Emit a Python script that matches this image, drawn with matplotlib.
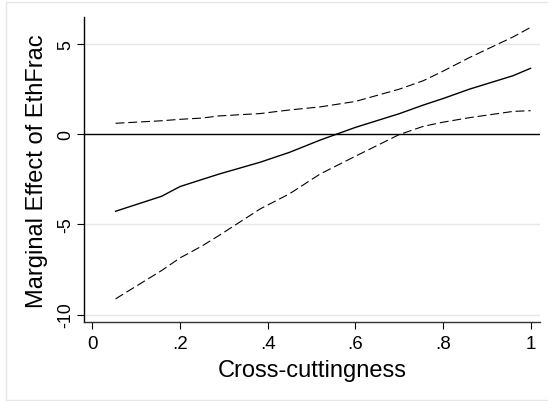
import numpy as np
import matplotlib
matplotlib.use("Agg")
import matplotlib.pyplot as plt
from matplotlib.patches import Rectangle

plt.rcParams['font.family'] = ['Liberation Sans', 'DejaVu Sans']

# cross-cuttingness values where the marginal effect is evaluated
cross = [0.053, 0.158, 0.20, 0.25, 0.29, 0.383, 0.45, 0.52, 0.60, 0.70,
         0.755, 0.80, 0.86, 0.96, 1.0]
# marginal effect of EthFrac and its 95% bounds
effect = [-4.27, -3.44, -2.90, -2.51, -2.20, -1.55, -1.00, -0.32, 0.38, 1.14,
          1.62, 1.98, 2.50, 3.25, 3.66]
upper = [0.61, 0.75, 0.83, 0.90, 1.02, 1.15, 1.35, 1.52, 1.82, 2.50,
         2.97, 3.50, 4.25, 5.40, 5.93]
lower = [-9.13, -7.56, -6.86, -6.20, -5.60, -4.14, -3.30, -2.20, -1.22, -0.02,
         0.44, 0.67, 0.92, 1.27, 1.31]

xticks = [0, 0.2, 0.4, 0.6, 0.8, 1.0]
xtick_labels = ['0', '.2', '.4', '.6', '.8', '1']
yticks = [-10, -5, 0, 5]
ytick_labels = ['-10', '-5', '0', '5']

fig = plt.figure(figsize=(5.48, 4.02), dpi=100)
ax = fig.add_axes([84/548, 1 - 323.3/402, 456/548, 305/402])

# light frame around the whole graph
fig.patches.append(Rectangle((6/548, 1/402), 1.2, 398/402, transform=fig.transFigure,
                             fill=False, edgecolor='#e6e6e6', linewidth=1.0))

for yv in [-10, -5, 5]:
    ax.axhline(yv, color='#e8e8e8', linewidth=1.0, zorder=0)
ax.axhline(0, color='black', linewidth=1.0, zorder=1)

ax.plot(cross, effect, color='black', linewidth=1.0)
ax.plot(cross, upper, color='black', linewidth=0.8, dashes=(8, 3.5))
ax.plot(cross, lower, color='black', linewidth=0.8, dashes=(8, 3.5))

ax.set_xlim(-0.019, 1.0215)
ax.set_ylim(-10.43, 6.49)
ax.set_xticks(xticks)
ax.set_xticklabels(xtick_labels)
ax.set_yticks(yticks)
ax.set_yticklabels(ytick_labels, rotation=90, va='center')

ax.spines['top'].set_visible(False)
ax.spines['right'].set_visible(False)
ax.spines['left'].set_linewidth(1.0)
ax.spines['bottom'].set_linewidth(1.0)
ax.spines['bottom'].set_color('#333333')
ax.tick_params(axis='x', length=5, width=0.8, labelsize=13.5, pad=4)
ax.tick_params(axis='y', length=5, width=0.8, labelsize=12.8, pad=2)

ax.set_xlabel('Cross-cuttingness', fontsize=17, labelpad=5)
ax.set_ylabel('Marginal Effect of EthFrac', fontsize=17, labelpad=7)

fig.savefig('out.png', dpi=100)
